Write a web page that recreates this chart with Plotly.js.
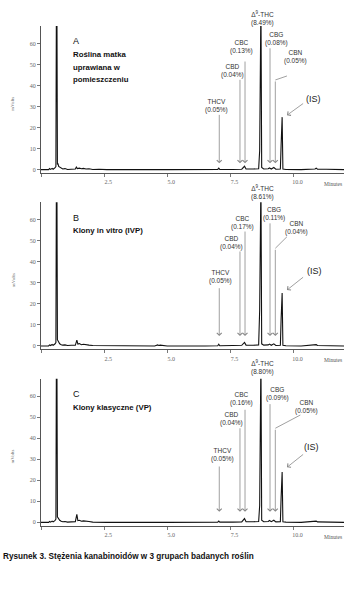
<!DOCTYPE html>
<html>
<head>
<meta charset="utf-8">
<script src="https://cdn.plot.ly/plotly-3.0.1.min.js"></script>
<style>html,body{margin:0;padding:0;background:#fff}#chart{width:354px;height:599px}</style>
</head>
<body>
<div id="chart"></div>
<script>
// ---- chromatogram data (time in minutes, signal in mVolts) ----
const timeA = [0,0.30,0.34,0.38,0.44,0.48,0.55,0.59,0.61,0.63,0.65,0.67,0.70,0.74,0.80,0.86,0.95,1.05,1.20,1.36,1.40,1.44,1.52,1.60,1.68,1.78,1.90,2.05,2.30,2.60,5.00,6.50,7.00,7.04,7.08,7.60,7.84,7.95,8.06,8.12,8.40,8.62,8.66,8.69,8.71,8.74,8.82,9.00,9.05,9.12,9.22,9.30,9.48,9.51,9.53,9.55,9.58,9.70,10.30,10.85,10.90,10.95,11.30,12.0];
const mVoltsA = [0,0,0.5,0.1,0.6,0.2,0.8,1.5,80,80,2.5,3.0,1.5,1.2,0.6,0.3,0.5,0.1,0.2,0.3,1.2,0.5,0.7,0.4,0.6,0.3,0.4,0.1,0.2,0,0,0,0.1,0.7,0.1,0.1,0.4,0.2,1.6,0.3,0.3,0.4,9,80,80,1,0.3,0.4,0.8,0.3,1.0,0.2,0.3,12,25,25,0.3,0.1,0,0.3,0.7,0.2,0.2,0];

const timeB = [0,0.30,0.34,0.38,0.44,0.48,0.55,0.59,0.61,0.63,0.65,0.67,0.70,0.74,0.80,0.86,0.95,1.05,1.20,1.36,1.42,1.46,1.52,1.60,1.68,1.78,1.90,2.05,2.30,2.60,4.50,4.62,4.66,4.72,5.0,6.50,7.00,7.04,7.08,7.60,7.84,7.95,8.06,8.12,8.40,8.62,8.66,8.69,8.71,8.74,8.82,9.00,9.05,9.12,9.22,9.30,9.48,9.51,9.53,9.55,9.58,9.70,10.30,10.85,10.90,10.95,11.30,12.0];
const mVoltsB = [0,0,0.5,0.2,0.7,0.3,0.9,1.6,80,80,3.0,2.4,1.8,1.0,0.6,0.4,0.5,0.2,0.3,0.3,2.8,0.9,1.1,0.6,0.8,0.5,0.4,0.2,0.2,0,0,0.5,0.2,0.4,0,0,0.1,0.8,0.1,0.2,0.5,0.3,1.7,0.4,0.3,0.5,17,80,80,1,0.4,0.5,0.9,0.3,1.0,0.2,0.3,13,25.2,25.2,0.3,0.1,0,0.3,0.6,0.2,0.2,0];

const timeC = [0,0.30,0.34,0.38,0.44,0.48,0.55,0.59,0.61,0.63,0.65,0.67,0.70,0.74,0.80,0.86,0.95,1.05,1.20,1.36,1.42,1.46,1.52,1.60,1.68,1.78,1.90,2.05,2.30,2.60,5.00,6.50,7.00,7.04,7.08,7.60,7.84,7.95,8.06,8.12,8.40,8.62,8.66,8.69,8.71,8.74,8.82,9.00,9.05,9.12,9.22,9.30,9.48,9.51,9.53,9.55,9.58,9.70,10.30,10.85,10.90,10.95,11.30,12.0];
const mVoltsC = [0,0,0.4,0.1,0.6,0.2,0.8,1.5,80,80,2.6,2.2,1.4,1.0,0.5,0.3,0.4,0.1,0.2,0.3,3.8,0.8,1.0,0.5,0.7,0.4,0.4,0.1,0.2,0,0,0,0.1,0.6,0.1,0.1,0.4,0.2,1.8,0.3,0.3,0.4,8,80,80,1,0.3,0.4,0.9,0.3,1.0,0.2,0.3,12,24,24,0.3,0.1,0,0.3,0.6,0.2,0.2,0];

// ---- labels ----
const panelLetters = ['A','B','C'];
const panelTitles = [['Roślina matka','uprawiana w','pomieszczeniu'],['Klony in vitro (IVP)'],['Klony klasyczne (VP)']];
const compounds = ['Δ<sup>9</sup>-THC','CBG','CBC','CBN','CBD','THCV'];
const percentA = ['8.49%','0.08%','0.13%','0.05%','0.04%','0.05%'];
const percentB = ['8.61%','0.11%','0.17%','0.04%','0.04%','0.05%'];
const percentC = ['8.80%','0.09%','0.16%','0.05%','0.04%','0.05%'];
const caption = 'Rysunek 3. Stężenia kanabinoidów w 3 grupach badanych roślin';

// label anchor (minutes, mV) per compound
const labelTimeA = [8.76,9.33,7.96,10.09,7.57,6.94];
const labelMvA   = [72.2,62.4,58.6,53.7,46.9,30.2];
const labelTimeB = [8.76,9.23,7.97,10.11,7.56,7.11];
const labelMvB   = [72.9,63.0,58.5,56.4,49.2,32.8];
const labelTimeC = [8.76,9.37,7.96,10.53,7.56,7.17];
const labelMvC   = [73.5,60.9,58.6,54.7,49.1,32.0];

// vertical arrows: CBG, CBC, CBN, CBD, THCV (minutes), tips & tails (mV)
const arrowTime = [9.07,8.08,9.28,7.88,7.06];
const arrowTipA  = [3.0,3.0,3.0,3.0,3.0];
const arrowTailA = [58.5,52.2,42.7,43.5,26.8];
const arrowTipB  = [4.7,4.7,4.7,4.7,4.7];
const arrowTailB = [59.1,55.2,46.5,45.7,28.2];
const arrowTipC  = [5.0,5.0,5.0,5.0,5.0];
const arrowTailC = [57.0,54.3,44.8,45.5,27.3];
// CBN connector end (minutes, mV)
const cbnEndTime = [9.74,9.74,10.27];
const cbnEndMv   = [44.6,52.0,51.1];
// internal standard label and arrow
const isLabelTime = [10.8,10.82,10.7];
const isLabelMv   = [33.6,35.7,36.0];
const isTipTime = 9.74, isTailTime = 10.44;
const isTipMv  = [25.9,26.6,26.2];
const isTailMv = [32.0,33.3,32.9];

const times = [timeA,timeB,timeC];
const signals = [mVoltsA,mVoltsB,mVoltsC];
const percents = [percentA,percentB,percentC];
const labelTimes = [labelTimeA,labelTimeB,labelTimeC];
const labelMvs = [labelMvA,labelMvB,labelMvC];
const tips = [arrowTipA,arrowTipB,arrowTipC];
const tails = [arrowTailA,arrowTailB,arrowTailC];

// panel plot areas (pixel rows of the page)
const W = 354, H = 599;
const panelTop = [26, 202.3, 378.7];
const panelBottom = [173, 349.3, 525.7];
const yRange = [-1.6, 68.4];
// convert mV to a fraction of the y-axis domain (lets labels sit above the plot top)
const mvToDomain = v => (v - yRange[0]) / (yRange[1] - yRange[0]);

const data = [];
const layout = {
  width: W, height: H, margin: {l:0,r:0,t:0,b:0},
  paper_bgcolor: '#fff', plot_bgcolor: '#fff', showlegend: false,
  annotations: [], shapes: []
};
const labFont = {family: 'Liberation Sans, Arial, sans-serif', size: 6.5, color: '#333'};

for (let p = 0; p < 3; p++) {
  const sfx = p === 0 ? '' : String(p + 1);
  const xa = 'x' + sfx, ya = 'y' + sfx;
  data.push({
    x: times[p], y: signals[p], type: 'scatter', mode: 'lines',
    xaxis: xa, yaxis: ya, line: {color: '#111', width: 1.1}, hoverinfo: 'skip'
  });
  layout['xaxis' + sfx] = {
    range: [0, 12], domain: [41/W, 344/W], anchor: ya,
    showline: true, linecolor: '#555', linewidth: 1, mirror: false,
    ticks: 'outside', ticklen: 3, tickcolor: '#555', tickwidth: 0.8,
    tickvals: [0, 2.5, 5, 7.5, 10], ticktext: ['', '2.5', '5.0', '7.5', '10.0'],
    tickfont: {family: 'Liberation Serif, serif', size: 6, color: '#666'},
    ticklabelshift: 4, ticklabelstandoff: 0,
    showgrid: false, zeroline: false, fixedrange: true
  };
  layout['yaxis' + sfx] = {
    range: yRange, domain: [1 - panelBottom[p]/H, 1 - panelTop[p]/H], anchor: xa,
    showline: true, linecolor: '#555', linewidth: 1,
    ticks: 'outside', ticklen: 3, tickcolor: '#555', tickwidth: 0.8,
    tickvals: [0, 10, 20, 30, 40, 50, 60],
    tickfont: {family: 'Liberation Serif, serif', size: 6, color: '#666'},
    showgrid: false, zeroline: false, fixedrange: true
  };
  const A = layout.annotations;
  // axis labels
  A.push({xref: xa + ' domain', yref: ya + ' domain', x: 0.965, y: -0.075, text: 'Minutes',
    showarrow: false, xanchor: 'center', yanchor: 'middle',
    font: {family: 'Liberation Serif, serif', size: 5.5, color: '#555'}});
  A.push({xref: 'paper', yref: ya + ' domain', x: 13/W, y: 0.47, text: 'mVolts', textangle: -90,
    showarrow: false, xanchor: 'center', yanchor: 'middle',
    font: {family: 'Liberation Serif, serif', size: 5, color: '#666'}});
  // panel letter and title
  A.push({xref: xa + ' domain', yref: ya + ' domain', x: 0.1, y: 0.895, text: panelLetters[p],
    showarrow: false, xanchor: 'left', yanchor: 'middle',
    font: {family: 'Liberation Sans, Arial, sans-serif', size: 9, color: '#111'}});
  panelTitles[p].forEach((line, i) => {
    A.push({xref: xa + ' domain', yref: ya + ' domain', x: 0.098, y: 0.805 - i*0.084, text: '<b>' + line + '</b>',
      showarrow: false, xanchor: 'left', yanchor: 'middle',
      font: {family: 'Liberation Sans, Arial, sans-serif', size: 7.8, color: '#111'}});
  });
  // compound labels
  compounds.forEach((c, i) => {
    A.push({xref: xa, yref: ya + ' domain', x: labelTimes[p][i], y: mvToDomain(labelMvs[p][i]),
      text: c + '<br>(' + percents[p][i] + ')', showarrow: false,
      xanchor: 'center', yanchor: 'middle', font: labFont});
  });
  // vertical arrows
  arrowTime.forEach((t, i) => {
    A.push({xref: xa, yref: ya, axref: xa, ayref: ya, x: t, y: tips[p][i], ax: t, ay: tails[p][i],
      text: '', showarrow: true, arrowhead: 4, arrowsize: 1.2, arrowwidth: 0.8,
      arrowcolor: '#888', standoff: 0, startstandoff: 0});
  });
  // CBN connector (slanted)
  layout.shapes.push({type: 'line', xref: xa, yref: ya, x0: arrowTime[2], y0: tails[p][2],
    x1: cbnEndTime[p], y1: cbnEndMv[p], line: {color: '#888', width: 0.8}});
  // internal standard
  A.push({xref: xa, yref: ya, x: isLabelTime[p], y: isLabelMv[p], text: '(IS)', showarrow: false,
    xanchor: 'center', yanchor: 'middle',
    font: {family: 'Liberation Sans, Arial, sans-serif', size: 9, color: '#222'}});
  A.push({xref: xa, yref: ya, axref: xa, ayref: ya, x: isTipTime, y: isTipMv[p], ax: isTailTime, ay: isTailMv[p],
    text: '', showarrow: true, arrowhead: 4, arrowsize: 1.2, arrowwidth: 0.8,
    arrowcolor: '#888', standoff: 0, startstandoff: 0});
}
layout.annotations.push({xref: 'paper', yref: 'paper', x: 1/W, y: 1 - 556/H, text: '<b>' + caption + '</b>',
  showarrow: false, xanchor: 'left', yanchor: 'middle',
  font: {family: 'Liberation Sans, Arial, sans-serif', size: 8.2, color: '#111'}});

Plotly.newPlot('chart', data, layout, {staticPlot: true, displayModeBar: false});
</script>
</body>
</html>
